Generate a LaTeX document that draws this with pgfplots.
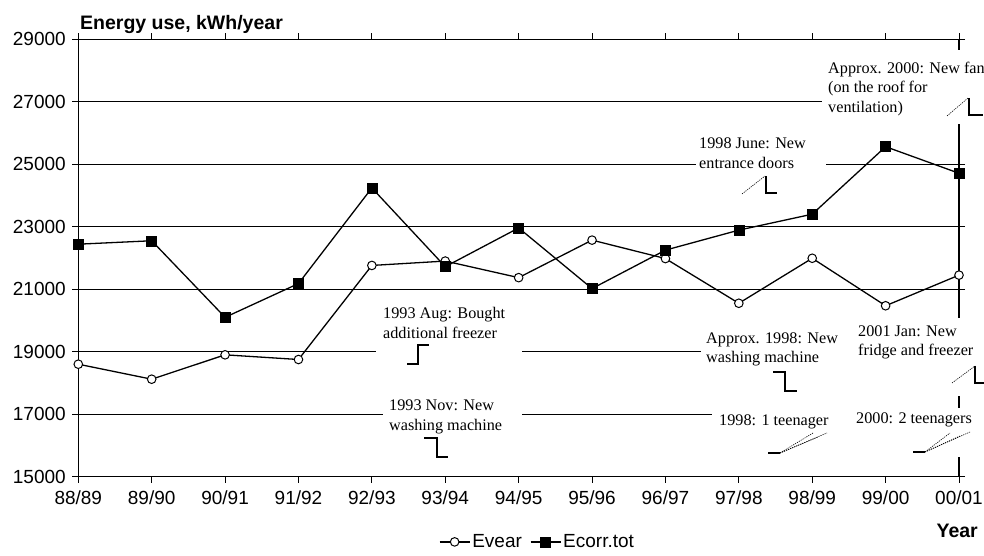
\documentclass[border=0pt]{standalone}
\usepackage{pgfplots}
\pgfplotsset{compat=1.18}
\usepackage{fontspec}
\setmainfont{Liberation Sans}
\newfontfamily\annfamily{Liberation Serif}
\newcommand\annfont{\annfamily\fontsize{16.2}{19.5}\selectfont}
\newcommand\tickfont{\fontsize{19}{22}\selectfont}
\newcommand\titlefont{\fontsize{19.5}{22}\selectfont\bfseries}

\pgfplotstableread{
x evear ecorr
0 18600 22440
1 18120 22550
2 18900 20100
3 18750 21180
4 21760 24240
5 21900 21720
6 21370 22960
7 22570 21020
8 21980 22250
9 20550 22890
10 21990 23400
11 20470 25560
12 21450 24710
}\datatable

\begin{document}
\begin{tikzpicture}
\begin{axis}[name=ax, at={(0,0)}, anchor=south west,
  scale only axis, width=880.7pt, height=437.5pt,
  xmin=0, xmax=12, ymin=15000, ymax=29000,
  xtick={0,...,12},
  xticklabels={88/89,89/90,90/91,91/92,92/93,93/94,94/95,95/96,96/97,97/98,98/99,99/00,00/01},
  ytick={15000,17000,...,29000},
  scaled y ticks=false,
  ymajorgrids, grid style={black, line width=1.1pt},
  axis line style={black, line width=1.3pt},
  tick align=outside, major tick length=6pt,
  tick style={black, line width=1pt},
  /pgf/number format/assume math mode=true,
  /pgf/number format/set thousands separator={},
  tick label style={font=\tickfont},
  xticklabel style={yshift=-4pt},
  yticklabel style={xshift=-3pt},
  legend columns=2,
  legend style={draw=none, fill=none, at={(0.5214,-0.149)}, anchor=center,
    font=\tickfont, inner sep=0pt,
    /tikz/every even column/.append style={column sep=6pt}},
  legend image code/.code={\draw[mark repeat=2, mark phase=2] plot coordinates {(0pt,0pt) (15pt,0pt) (30pt,0pt)};},
]
\addplot[black, line width=1.3pt, mark=*, mark size=4.3pt,
  mark options={fill=white, line width=1pt}] table[x=x, y=evear] {\datatable};
\addlegendentry{Evear}
\addplot[black, line width=1.3pt, mark=square*, mark size=5pt,
  mark options={fill=black, line width=0.5pt}] table[x=x, y=ecorr] {\datatable};
\addlegendentry{Ecorr.tot}
\end{axis}

\begin{scope}[shift={(ax.south west)}, xshift=-78.3pt, yshift=476.7pt, x=1pt, y=-1pt]
  % white text boxes interrupting grid lines
  \fill[white] (376,296) rectangle (522,372);
  \fill[white] (383,392) rectangle (522,466);
  \fill[white] (696,132) rectangle (826,198);
  \fill[white] (822,50) rectangle (990,124);
  \fill[white] (701,326) rectangle (850,400);
  \fill[white] (850,318) rectangle (990,396);
  \fill[white] (712,404) rectangle (850,466);
  \fill[white] (850,408) rectangle (990,457);

  % annotation texts
  \node[anchor=west, align=left, inner sep=0pt, font=\annfont] at (383,323) {1993 Aug: Bought\\additional freezer};
  \node[anchor=west, align=left, inner sep=0pt, font=\annfont] at (389,417) {1993 Nov: New\\washing machine};
  \node[anchor=west, align=left, inner sep=0pt, font=\annfont] at (699,153) {1998 June: New\\entrance doors};
  \node[anchor=west, align=left, inner sep=0pt, font=\annfont] at (828,89) {Approx. 2000: New fan\\(on the roof for\\ventilation)};
  \node[anchor=west, align=left, inner sep=0pt, font=\annfont] at (706,349.5) {Approx. 1998: New\\washing machine};
  \node[anchor=west, align=left, inner sep=0pt, font=\annfont] at (858,342.5) {2001 Jan: New\\fridge and freezer};
  \node[anchor=west, align=left, inner sep=0pt, font=\annfont] at (719,422) {1998: 1 teenager};
  \node[anchor=west, align=left, inner sep=0pt, font=\annfont] at (856,420) {2000: 2 teenagers};

  % small step symbols
  \begin{scope}[line width=1.3pt]
    \draw (407,364) -- (418,364) -- (418,345) -- (429,345);
    \draw (424,438) -- (437,438) -- (437,457) -- (448,457);
    \draw (773,372) -- (785,372) -- (785,391) -- (797,391);
    \draw (766,176) -- (766,193) -- (777,193);
    \draw (969,98) -- (969,115) -- (983,115);
    \draw (975,366) -- (975,383) -- (984,383);
    \draw (768,453) -- (780,453);
    \draw (913,452) -- (925,452);
  \end{scope}
  \begin{scope}[line width=0.6pt, dash pattern=on 1.2pt off 1pt]
    \draw (742,194) -- (765,176);
    \draw (947,116) -- (968,98);
    \draw (952,383) -- (975,366);
    \draw (780,453) -- (813,433);
    \draw (780,453) -- (827,433);
    \draw (780,453) -- (818,437);
    \draw (925,452) -- (950,433);
    \draw (925,452) -- (970,432);
    \draw (925,452) -- (960,436);
  \end{scope}

  % title and axis label
  \node[anchor=west, inner sep=0pt, font=\titlefont] at (80,25) {Energy use, kWh/year};
  \node[anchor=east, inner sep=0pt, font=\titlefont] at (978,531) {Year};
\end{scope}

\pgfresetboundingbox
\path[use as bounding box] (-78.3pt,-79.3pt) rectangle (905.7pt,476.7pt);
\end{tikzpicture}
\end{document}
